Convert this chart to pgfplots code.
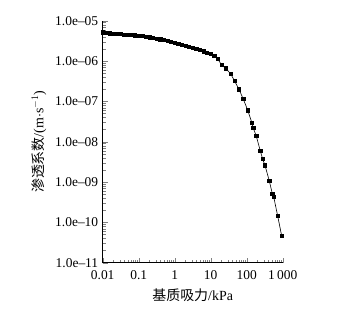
\documentclass[border=0pt]{standalone}
\usepackage{fontspec}
\setmainfont{Liberation Serif}
\newfontfamily\cjk{Noto Sans CJK SC}
\usepackage{pgfplots}
\pgfplotsset{compat=1.18}
\begin{document}
\begin{tikzpicture}
\begin{axis}[name=ax,
  scale only axis, width=180bp, height=242bp,
  xmode=log, ymode=log,
  xmin=0.01, xmax=1000, ymin=1e-11, ymax=1e-5,
  axis x line*=bottom, axis y line*=left,
  axis line style={line width=0.8pt},
  tick align=inside,
  major tick length=5bp, minor tick length=3bp,
  xtick={0.01,0.1,1,10,100,1000},
  xticklabels={0.01,0.1,1,10,100,1\,000},
  ytick={1e-11,1e-10,1e-9,1e-8,1e-7,1e-6,1e-5},
  yticklabels={1.0e--11,1.0e--10,1.0e--09,1.0e--08,1.0e--07,1.0e--06,1.0e--05},
  /pgf/number format/assume math mode=true,
  ticklabel style={font=\fontsize{13.5}{15}\selectfont},
  yticklabel style={xshift=-1bp},
  xticklabel style={yshift=-4bp},
  xlabel={{\cjk 基质吸力}/kPa},
  ylabel={{\cjk 渗透系数}/(m$\cdot$s$^{-1}$)},
  label style={font=\fontsize{14}{16}\selectfont},
  xlabel style={yshift=-3bp},
  ylabel style={yshift=2bp},
]
\addplot[black, line width=0.6pt, mark=square*, mark size=1.6bp] coordinates {
(0.01,5.13e-6)(0.0126,5.01e-6)(0.0158,4.90e-6)(0.02,4.84e-6)(0.0251,4.79e-6)
(0.0316,4.68e-6)(0.0398,4.57e-6)(0.0501,4.52e-6)(0.0631,4.42e-6)(0.0794,4.37e-6)
(0.1,4.27e-6)(0.126,4.17e-6)(0.158,4.07e-6)(0.2,3.89e-6)(0.251,3.80e-6)
(0.316,3.63e-6)(0.398,3.47e-6)(0.501,3.31e-6)(0.631,3.16e-6)(0.794,3.02e-6)
(1,2.82e-6)(1.26,2.69e-6)(1.58,2.57e-6)(2.0,2.40e-6)(2.51,2.29e-6)
(3.16,2.14e-6)(3.98,2.00e-6)(5.01,1.86e-6)(6.31,1.74e-6)(7.94,1.62e-6)
(10,1.51e-6)(12.6,1.35e-6)(15.8,1.12e-6)
(20.2,7.9e-7)(26.1,6.6e-7)(36,4.8e-7)(46,3.2e-7)(61,2.0e-7)(80,1.15e-7)
(107,6.0e-8)(140,2.9e-8)(152,2.2e-8)(185,1.37e-8)(239,5.9e-9)(278,3.7e-9)
(322,2.6e-9)(424,1.07e-9)(514,5.2e-10)(562,4.3e-10)(726,1.44e-10)(938,4.6e-11)
};
\end{axis}
\path (ax.south west) ++(-102.7bp,-52.3bp) coordinate (bl);
\path (ax.north east) ++(66.3bp,20.7bp) coordinate (tr);
\path (bl) rectangle (tr);
\end{tikzpicture}
\end{document}
